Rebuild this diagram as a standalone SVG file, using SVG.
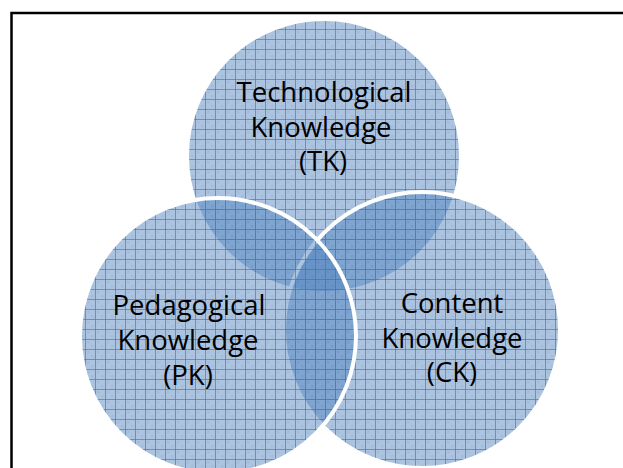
<svg xmlns="http://www.w3.org/2000/svg" width="623" height="468" viewBox="0 0 623 468">
  <style>
    .circ { fill: url(#grid); stroke: #ffffff; stroke-width: 4; }
    .lbl { font-family: "Open Sans", "Liberation Sans", sans-serif; font-size: 27.5px; fill: #000000; text-anchor: middle; }
  </style>
  <defs>
    <pattern id="grid" patternUnits="userSpaceOnUse" x="5" y="9" width="10" height="10">
      <rect width="10" height="10" fill="#4f81bd" fill-opacity="0.47"/>
      <rect x="2" y="2" width="2.5" height="2.5" fill="#4f81bd" fill-opacity="0.12"/>
      <rect x="6" y="6" width="2.5" height="2.5" fill="#4f81bd" fill-opacity="0.12"/>
      <path d="M0.5 0V10M0 0.5H10" stroke="#4579c4" stroke-opacity="0.7" stroke-width="1" fill="none"/>
    </pattern>
  </defs>
  <rect x="11.5" y="13" width="640" height="500" fill="#ffffff" stroke="#000000" stroke-width="2.5"/>
  <g id="tk">
    <circle class="circ" cx="324" cy="156" r="137"/>
    <text class="lbl" x="324" y="102">Technological</text>
    <text class="lbl" x="321" y="137">Knowledge</text>
    <text class="lbl" x="323" y="171">(TK)</text>
  </g>
  <g id="ck">
    <circle class="circ" cx="422" cy="330" r="138"/>
    <text class="lbl" x="452" y="313">Content</text>
    <text class="lbl" x="452" y="348">Knowledge</text>
    <text class="lbl" x="452" y="382">(CK)</text>
  </g>
  <g id="pk">
    <circle class="circ" cx="218" cy="336" r="138"/>
    <text class="lbl" x="189" y="315">Pedagogical</text>
    <text class="lbl" x="188" y="350">Knowledge</text>
    <text class="lbl" x="188" y="385">(PK)</text>
  </g>
  <g id="connectors"></g>
</svg>
